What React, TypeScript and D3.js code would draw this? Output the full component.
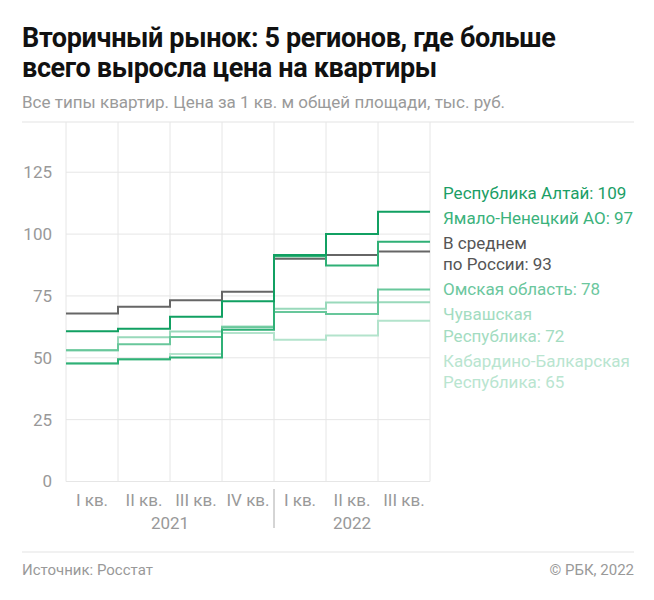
import * as d3 from 'd3';

const quarters = ['I кв.', 'II кв.', 'III кв.', 'IV кв.', 'I кв.', 'II кв.', 'III кв.'];
const years = ['2021', '2022'];
const yearSpans = [4, 3];
const yTicks = [0, 25, 50, 75, 100, 125];

const average = [67.9, 70.6, 73.3, 76.7, 90.0, 91.5, 93.0];
const altai = [60.7, 61.7, 66.6, 72.9, 91.5, 100.0, 109.0];
const yamal = [47.7, 49.4, 50.1, 61.3, 91.0, 87.3, 96.9];
const omsk = [53.0, 55.5, 58.4, 62.3, 68.5, 67.7, 77.6];
const chuvash = [53.0, 58.3, 60.6, 62.6, 69.8, 72.3, 72.4];
const kabardino = [47.8, 49.3, 51.5, 60.0, 57.3, 59.0, 65.0];

const series = [
  { name: 'kabardino', values: kabardino, color: '#b3e3cc', label: ['Кабардино-Балкарская', 'Республика: 65'], text: '#b9e5d0' },
  { name: 'chuvash', values: chuvash, color: '#99d9bb', label: ['Чувашская', 'Республика: 72'], text: '#a3dcc1' },
  { name: 'omsk', values: omsk, color: '#68c79b', label: ['Омская область: 78'], text: '#6cc79e' },
  { name: 'average', values: average, color: '#666666', label: ['В среднем', 'по России: 93'], text: '#555555' },
  { name: 'yamal', values: yamal, color: '#2fb076', label: ['Ямало-Ненецкий АО: 97'], text: '#3bb27c' },
  { name: 'altai', values: altai, color: '#11a062', label: ['Республика Алтай: 109'], text: '#1b9e66' },
];

const legendOrder = ['altai', 'yamal', 'average', 'omsk', 'chuvash', 'kabardino'];

const W = 654;
const H = 600;
const left = 66;
const right = 430;
const top = 122;
const bottom = 481.5;
const font = 'Roboto, "Noto Sans", sans-serif';

const App = () => {
  const x = d3.scaleLinear().domain([0, quarters.length]).range([left, right]);
  const y = d3.scaleLinear().domain([0, 145.3]).range([bottom, top]);

  const line = d3
    .line<number>()
    .x((_, i) => x(i))
    .y(d => y(d))
    .curve(d3.curveStepAfter);

  // repeat the last value so the final quarter gets its own step
  const stepPath = (vals: number[]) => line([...vals, vals[vals.length - 1]]) || '';

  let legendY = 198.5;
  const legend = legendOrder.map(key => {
    const s = series.find(d => d.name === key)!;
    const lines = s.label.map((t, j) => ({ t, y: legendY + j * 21.5 }));
    legendY += s.label.length * 21.5 + 3.5;
    return { s, lines };
  });

  let yearStart = 0;
  const yearBlocks = years.map((yr, i) => {
    const start = yearStart;
    yearStart += yearSpans[i];
    return { yr, start, end: yearStart };
  });

  return (
    <svg
      width={W}
      height={H}
      style={{ position: 'absolute', left: 0, top: 0, background: '#fff' }}
      fontFamily={font}
    >
      <text x={22} y={47} fontSize={27} fontWeight={700} fill="#111" letterSpacing={-0.35}>
        Вторичный рынок: 5 регионов, где больше
      </text>
      <text x={22} y={77} fontSize={27} fontWeight={700} fill="#111" letterSpacing={-0.35}>
        всего выросла цена на квартиры
      </text>
      <text x={22} y={108} fontSize={17} fill="#9a9a9a">
        Все типы квартир. Цена за 1 кв. м общей площади, тыс. руб.
      </text>
      <line x1={22} x2={634} y1={top} y2={top} stroke="#e3e3e3" strokeWidth={1} />

      {yTicks.map(t => (
        <g key={t}>
          <line x1={left} x2={right} y1={y(t)} y2={y(t)} stroke="#e6e6e6" strokeWidth={1} />
          <text x={52} y={y(t)} dy="0.35em" textAnchor="end" fontSize={17} fill="#999">
            {t}
          </text>
        </g>
      ))}
      {d3.range(quarters.length + 1).map(i => (
        <line key={i} x1={x(i)} x2={x(i)} y1={top} y2={bottom} stroke="#e6e6e6" strokeWidth={1} />
      ))}

      {series.map(s => (
        <path key={s.name} d={stepPath(s.values)} fill="none" stroke={s.color} strokeWidth={2} />
      ))}

      {quarters.map((q, i) => (
        <text key={i} x={x(i + 0.5)} y={505.5} textAnchor="middle" fontSize={17} fill="#999">
          {q}
        </text>
      ))}
      {yearBlocks.map(b => (
        <text key={b.yr} x={x((b.start + b.end) / 2)} y={528.5} textAnchor="middle" fontSize={17} fill="#999">
          {b.yr}
        </text>
      ))}
      <line x1={x(4)} x2={x(4)} y1={489} y2={528} stroke="#aaa" strokeWidth={1} />

      {legend.map(({ s, lines }) =>
        lines.map(l => (
          <text key={s.name + l.t} x={443} y={l.y} fontSize={17} fill={s.text}>
            {l.t}
          </text>
        ))
      )}

      <line x1={22} x2={634} y1={552} y2={552} stroke="#e3e3e3" strokeWidth={1} />
      <text x={22} y={575} fontSize={15} fill="#999">
        Источник: Росстат
      </text>
      <text x={634} y={575} textAnchor="end" fontSize={15} fill="#999">
        © РБК, 2022
      </text>
    </svg>
  );
};

export default App;
